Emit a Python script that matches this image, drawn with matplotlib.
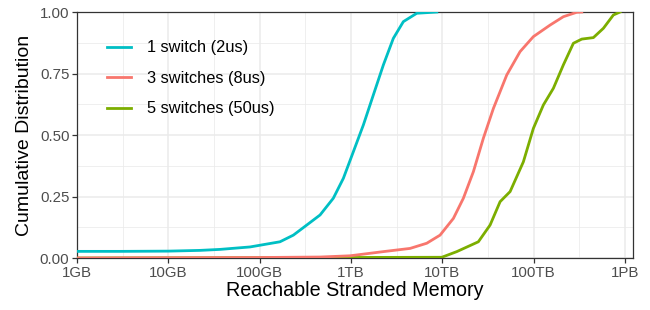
import numpy as np
import matplotlib.pyplot as plt
from matplotlib.ticker import FixedLocator

plt.rcParams['font.family'] = ['Liberation Sans', 'DejaVu Sans']

# memory in GB, cumulative fraction
mem_1sw = [1, 2.96, 10, 22.2, 36.8, 78.5, 167, 234, 328, 459, 641, 826, 1062,
           1368, 1759, 2265, 2912, 3750, 5260, 8710]
cdf_1sw = [0.027, 0.027, 0.028, 0.031, 0.035, 0.045, 0.066, 0.093, 0.134,
           0.175, 0.243, 0.324, 0.432, 0.541, 0.663, 0.785, 0.893, 0.961,
           0.995, 1.0]

mem_3sw = [1, 98.4, 459, 977, 2265, 4440, 6760, 9460, 13240, 17030, 21920,
           28200, 36300, 50840, 71120, 99500, 151700, 211900, 297000, 337300]
cdf_3sw = [0.0, 0.002, 0.004, 0.009, 0.026, 0.039, 0.06, 0.093, 0.161, 0.243,
           0.351, 0.487, 0.608, 0.744, 0.839, 0.90, 0.947, 0.981, 0.999, 1.0]

mem_5sw = [1, 9880, 14420, 24850, 33400, 42990, 55340, 77300, 99500, 128000,
           164800, 211900, 272900, 337300, 451900, 582100, 748200, 885100]
cdf_5sw = [0.0, 0.003, 0.026, 0.066, 0.134, 0.229, 0.27, 0.391, 0.527, 0.622,
           0.69, 0.785, 0.873, 0.89, 0.896, 0.934, 0.988, 1.0]

tick_vals = [1, 10, 100, 1e3, 1e4, 1e5, 1e6]
tick_labels = ['1GB', '10GB', '100GB', '1TB', '10TB', '100TB', '1PB']

fig = plt.figure(figsize=(6.5, 3.1), dpi=100)
ax = fig.add_axes([0.1185, 0.1677, 0.8555, 0.7935])

lw = 2.0
ax.plot(mem_5sw, cdf_5sw, color='#7CAE00', lw=lw, label='5 switches (50us)',
        zorder=3, solid_joinstyle='round')
ax.plot(mem_3sw, cdf_3sw, color='#F8766D', lw=lw, label='3 switches (8us)',
        zorder=4, solid_joinstyle='round')
ax.plot(mem_1sw, cdf_1sw, color='#00BFC4', lw=lw, label='1 switch (2us)',
        zorder=5, solid_joinstyle='round')

ax.set_xscale('log')
ax.set_xlim(1, 10 ** 6.09)
ax.set_ylim(0, 1)
ax.set_xticks(tick_vals)
ax.set_xticklabels(tick_labels)
ax.xaxis.set_minor_locator(FixedLocator([10 ** (k + 0.5) for k in range(6)]))
ax.set_yticks([0, 0.25, 0.5, 0.75, 1.0])
ax.set_yticklabels(['0.00', '0.25', '0.50', '0.75', '1.00'])
ax.yaxis.set_minor_locator(FixedLocator([0.125, 0.375, 0.625, 0.875]))

ax.grid(which='major', color='#EBEBEB', lw=1.1, zorder=0)
ax.grid(which='minor', color='#EBEBEB', lw=0.55, zorder=0)
ax.set_axisbelow(True)
for s in ax.spines.values():
    s.set_color('#333333')
    s.set_linewidth(0.9)
ax.tick_params(which='major', length=3.5, width=0.9, color='#333333',
               labelsize=10.8, labelcolor='#4D4D4D', pad=2)
ax.tick_params(which='minor', length=0)

ax.set_xlabel('Reachable Stranded Memory', fontsize=14.2, labelpad=1)
ax.set_ylabel('Cumulative Distribution', fontsize=14, labelpad=5)

h, l = ax.get_legend_handles_labels()
ax.legend(h[::-1], l[::-1], loc='upper left', bbox_to_anchor=(0.028, 0.945),
          frameon=False, fontsize=11.8, handlelength=1.45, handletextpad=0.95,
          labelspacing=0.95)

plt.savefig('out.png', dpi=100)
